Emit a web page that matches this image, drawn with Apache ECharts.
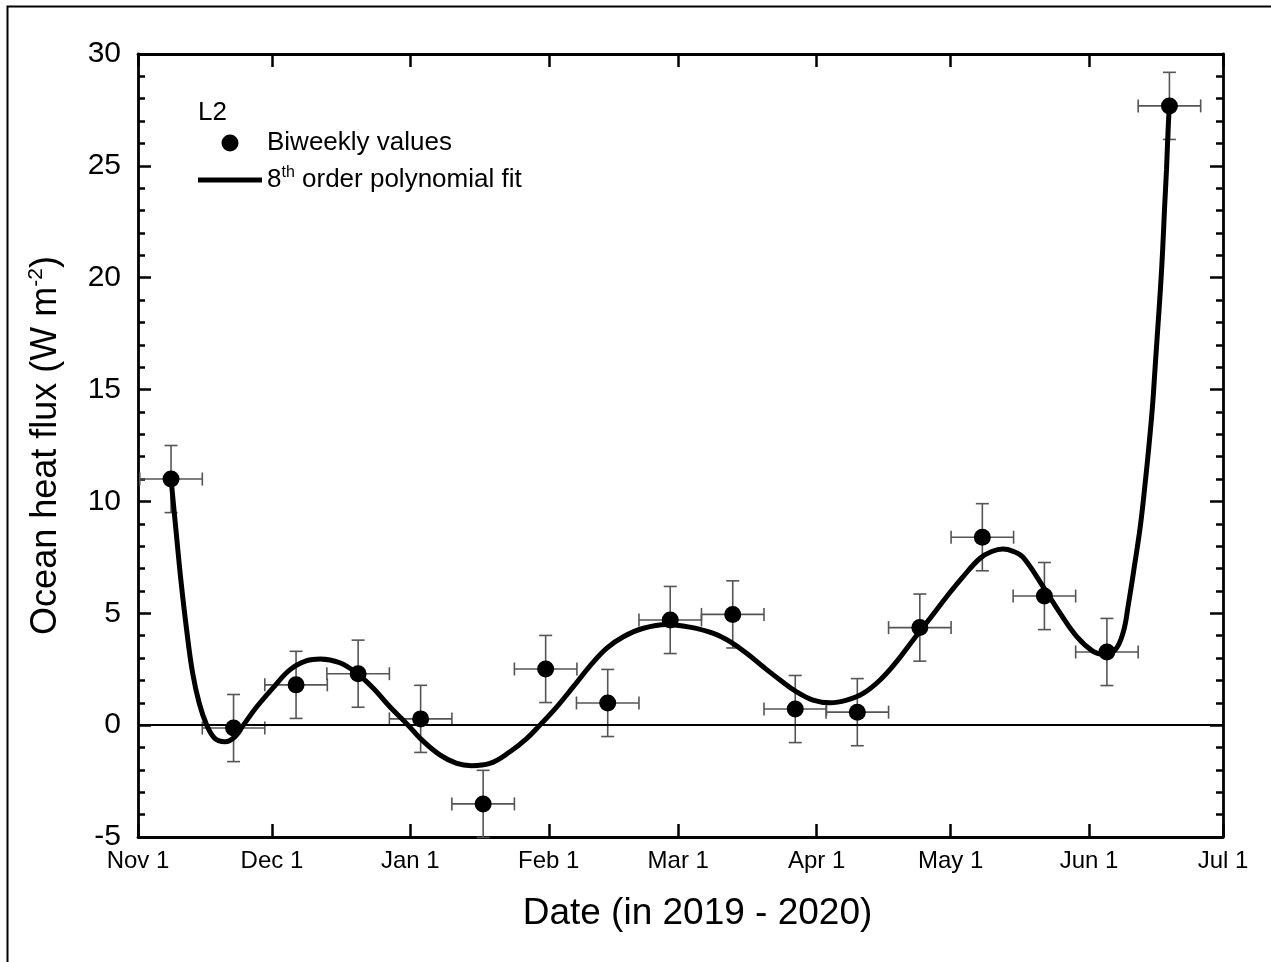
<!DOCTYPE html>
<html>
<head>
<meta charset="utf-8">
<script src="https://cdn.jsdelivr.net/npm/echarts@6/dist/echarts.min.js"></script>
<style>
  html, body { margin: 0; padding: 0; background: #fff; }
  #chart { width: 1271px; height: 962px; }
</style>
</head>
<body>
<div id="chart"></div>
<script>
// Ocean heat flux at site L2, biweekly estimates Nov 2019 - Jun 2020.
// The horizontal axis runs in days counted from 1 Nov 2019.

const monthTickDates = ['2019-11-01', '2019-12-01', '2020-01-01', '2020-02-01', '2020-03-01',
                        '2020-04-01', '2020-05-01', '2020-06-01', '2020-07-01'];
const monthTickLabels = ['Nov 1', 'Dec 1', 'Jan 1', 'Feb 1', 'Mar 1', 'Apr 1', 'May 1', 'Jun 1', 'Jul 1'];

// biweekly values (centre day, flux in W m-2) with their uncertainty
const pointDays = [7.4, 21.4, 35.4, 49.3, 63.3, 77.3, 91.3, 105.2, 119.2,
                   133.2, 147.2, 161.1, 175.1, 189.1, 203.0, 217.0, 231.0];
const pointFlux = [11.0, -0.13, 1.8, 2.3, 0.28, -3.52, 2.51, 0.99, 4.7,
                   4.95, 0.72, 0.58, 4.36, 8.4, 5.77, 3.27, 27.68];
const fluxError = [1.5, 1.5, 1.5, 1.5, 1.5, 1.5, 1.5, 1.5, 1.5,
                   1.5, 1.5, 1.5, 1.5, 1.5, 1.5, 1.5, 1.5];
const dayError  = [7, 7, 7, 7, 7, 7, 7, 7, 7, 7, 7, 7, 7, 7, 7, 7, 7];

// 8th order polynomial fit, sampled along the curve
const fitDays = [7.4, 8.5, 9.6, 10.9, 12.2, 13.7, 15.4, 17.2, 19.5, 21.7, 23.6, 26.6,
                 30.3, 34.0, 37.8, 40.8, 45.2, 49.0, 52.7, 56.4, 60.5, 63.2, 67.6, 71.4, 74.7,
                 78.8, 83.3, 87.1, 90.0, 93.8, 97.5, 101.2, 105.0, 108.7, 113.2, 118.4, 123.6,
                 128.9, 132.6, 136.3, 140.0, 143.8, 147.5, 151.2, 155.0, 158.7, 162.4, 166.2,
                 169.9, 173.6, 177.4, 181.1, 184.8, 188.6, 191.2, 193.7, 196.0, 198.2, 203.0,
                 206.4, 210.2, 213.9, 216.1, 218.8, 220.65, 221.8, 223.2, 224.5, 225.5, 226.4,
                 227.2, 227.8, 228.4, 229.0, 229.5, 229.9, 230.35, 230.7, 231.0];
const fitFlux = [11.0, 8.72, 6.49, 4.25, 2.37, 0.99, 0.0, -0.59, -0.74, -0.52, 0.0, 0.82,
                 1.68, 2.47, 2.88, 2.96, 2.79, 2.32, 1.65, 0.82, 0.0, -0.59, -1.33, -1.71, -1.81,
                 -1.71, -1.19, -0.59, 0.0, 0.82, 1.72, 2.64, 3.44, 3.95, 4.33, 4.5, 4.38,
                 4.1, 3.73, 3.21, 2.61, 2.02, 1.49, 1.12, 1.0, 1.12, 1.42, 2.02,
                 2.84, 3.81, 4.78, 5.74, 6.64, 7.46, 7.76, 7.87, 7.77, 7.51, 6.1,
                 5.04, 3.97, 3.3, 3.18, 3.36, 4.15, 5.39, 7.16, 8.92, 10.69, 12.46,
                 14.23, 16.0, 17.77, 19.54, 21.3, 23.07, 24.84, 26.61, 27.68];

function parseDay(s) {
  const [y, m, d] = s.split('-').map(Number);
  return Date.UTC(y, m - 1, d) / 86400000;
}
const monthTickDays = monthTickDates.map(s => parseDay(s) - parseDay(monthTickDates[0]));
const xMin = monthTickDays[0];
const xMax = monthTickDays[monthTickDays.length - 1];

function monthLabel(v) {
  const i = monthTickDays.indexOf(Math.round(v));
  return i >= 0 ? monthTickLabels[i] : '';
}

const points = pointDays.map((d, i) => [d, pointFlux[i]]);
const errorBars = pointDays.map((d, i) => [
  d, pointFlux[i],
  d - dayError[i], d + dayError[i],
  pointFlux[i] - fluxError[i], pointFlux[i] + fluxError[i]
]);
const fitLine = fitDays.map((d, i) => [d, fitFlux[i]]);

const FONT = '"Liberation Sans", Arial, sans-serif';
const axisLine = { show: true, onZero: false, lineStyle: { color: '#000', width: 2.8 } };
const tickStyle = { color: '#000', width: 2.5 };

const chart = echarts.init(document.getElementById('chart'), null, { renderer: 'canvas' });

chart.setOption({
  backgroundColor: '#fff',
  animation: false,
  textStyle: { fontFamily: FONT, color: '#000' },
  graphic: [{
    type: 'rect',
    shape: { x: 7.5, y: 6.5, width: 1400, height: 1100 },
    style: { fill: 'none', stroke: '#000', lineWidth: 2 },
    silent: true
  }],
  title: {
    text: 'L2',
    left: 198, top: 99,
    padding: 0,
    textStyle: { fontFamily: FONT, fontSize: 26, fontWeight: 'normal', color: '#000', lineHeight: 28 }
  },
  legend: {
    orient: 'vertical',
    left: 198, top: 128,
    padding: 0,
    itemWidth: 64, itemHeight: 17, itemGap: 7,
    textStyle: {
      fontFamily: FONT, fontSize: 26, color: '#000', lineHeight: 30,
      rich: { sup: { fontFamily: FONT, fontSize: 16, lineHeight: 16, verticalAlign: 'top', color: '#000' } }
    },
    formatter: name => name.replace(/^8th/, '8{sup|th}'),
    data: [
      { name: 'Biweekly values', icon: 'circle' },
      { name: '8th order polynomial fit', icon: 'path://M0,0 L64,0 L64,5 L0,5 Z' }
    ]
  },
  grid: { left: 138, right: 48, top: 54, bottom: 125, containLabel: false, outerBoundsMode: 'none' },
  xAxis: [{
    type: 'value',
    position: 'bottom',
    min: xMin, max: xMax,
    axisLine,
    axisTick: { show: true, inside: true, length: 13, customValues: monthTickDays, lineStyle: tickStyle },
    axisLabel: { show: true, customValues: monthTickDays, formatter: monthLabel,
                 fontFamily: FONT, fontSize: 24, color: '#000', margin: 12,
                 showMinLabel: true, showMaxLabel: true, hideOverlap: false },
    splitLine: { show: false },
    name: 'Date (in 2019 - 2020)',
    nameLocation: 'middle',
    nameGap: 58,
    nameTextStyle: { fontFamily: FONT, fontSize: 37, color: '#000', padding: [0, 0, 0, 34] }
  }, {
    type: 'value',
    position: 'top',
    min: xMin, max: xMax,
    axisLine,
    axisTick: { show: true, inside: true, length: 13, customValues: monthTickDays, lineStyle: tickStyle },
    axisLabel: { show: false },
    splitLine: { show: false }
  }],
  yAxis: [{
    type: 'value',
    position: 'left',
    min: -5, max: 30, interval: 5,
    axisLine,
    axisTick: { show: true, inside: true, length: 13, lineStyle: tickStyle },
    minorTick: { show: true, splitNumber: 5, length: 7, lineStyle: tickStyle },
    axisLabel: { fontFamily: FONT, fontSize: 30, color: '#000', margin: 17 },
    splitLine: { show: false },
    minorSplitLine: { show: false },
    name: 'Ocean heat flux (W m{sup|-2})',
    nameLocation: 'middle',
    nameRotate: 90,
    nameGap: 72,
    nameTextStyle: {
      fontFamily: FONT, fontSize: 36, color: '#000', lineHeight: 40,
      rich: { sup: { fontFamily: FONT, fontSize: 21, lineHeight: 21, verticalAlign: 'top', color: '#000' } }
    }
  }, {
    type: 'value',
    position: 'right',
    min: -5, max: 30, interval: 5,
    axisLine,
    axisTick: { show: true, inside: true, length: 13, lineStyle: tickStyle },
    minorTick: { show: true, splitNumber: 5, length: 7, lineStyle: tickStyle },
    axisLabel: { show: false },
    splitLine: { show: false },
    minorSplitLine: { show: false }
  }],
  series: [{
    name: 'error bars',
    type: 'custom',
    xAxisIndex: 0, yAxisIndex: 0,
    z: 1,
    silent: true,
    encode: { x: [0, 2, 3], y: [1, 4, 5] },
    data: errorBars,
    renderItem: (params, api) => {
      const c = api.coord([api.value(0), api.value(1)]);
      const left = api.coord([api.value(2), api.value(1)])[0];
      const right = api.coord([api.value(3), api.value(1)])[0];
      const bottom = api.coord([api.value(0), api.value(4)])[1];
      const top = api.coord([api.value(0), api.value(5)])[1];
      const cap = 6.5;
      const style = { stroke: '#555', lineWidth: 1.6 };
      const seg = (x1, y1, x2, y2) => ({ type: 'line', shape: { x1, y1, x2, y2 }, style });
      return {
        type: 'group',
        children: [
          seg(c[0], top, c[0], bottom),
          seg(c[0] - cap, top, c[0] + cap, top),
          seg(c[0] - cap, bottom, c[0] + cap, bottom),
          seg(left, c[1], right, c[1]),
          seg(left, c[1] - cap, left, c[1] + cap),
          seg(right, c[1] - cap, right, c[1] + cap)
        ]
      };
    }
  }, {
    name: '8th order polynomial fit',
    type: 'line',
    xAxisIndex: 0, yAxisIndex: 0,
    z: 3,
    data: fitLine,
    smooth: 0.4,
    symbol: 'none',
    showSymbol: false,
    lineStyle: { color: '#000', width: 5 },
    itemStyle: { color: '#000' },
    markLine: {
      silent: true,
      symbol: 'none',
      label: { show: false },
      lineStyle: { color: '#000', width: 2, type: 'solid' },
      data: [{ yAxis: 0 }],
      z: 2
    }
  }, {
    name: 'Biweekly values',
    type: 'scatter',
    xAxisIndex: 0, yAxisIndex: 0,
    z: 4,
    data: points,
    symbol: 'circle',
    symbolSize: 17,
    itemStyle: { color: '#000', opacity: 1 }
  }]
});
</script>
</body>
</html>
